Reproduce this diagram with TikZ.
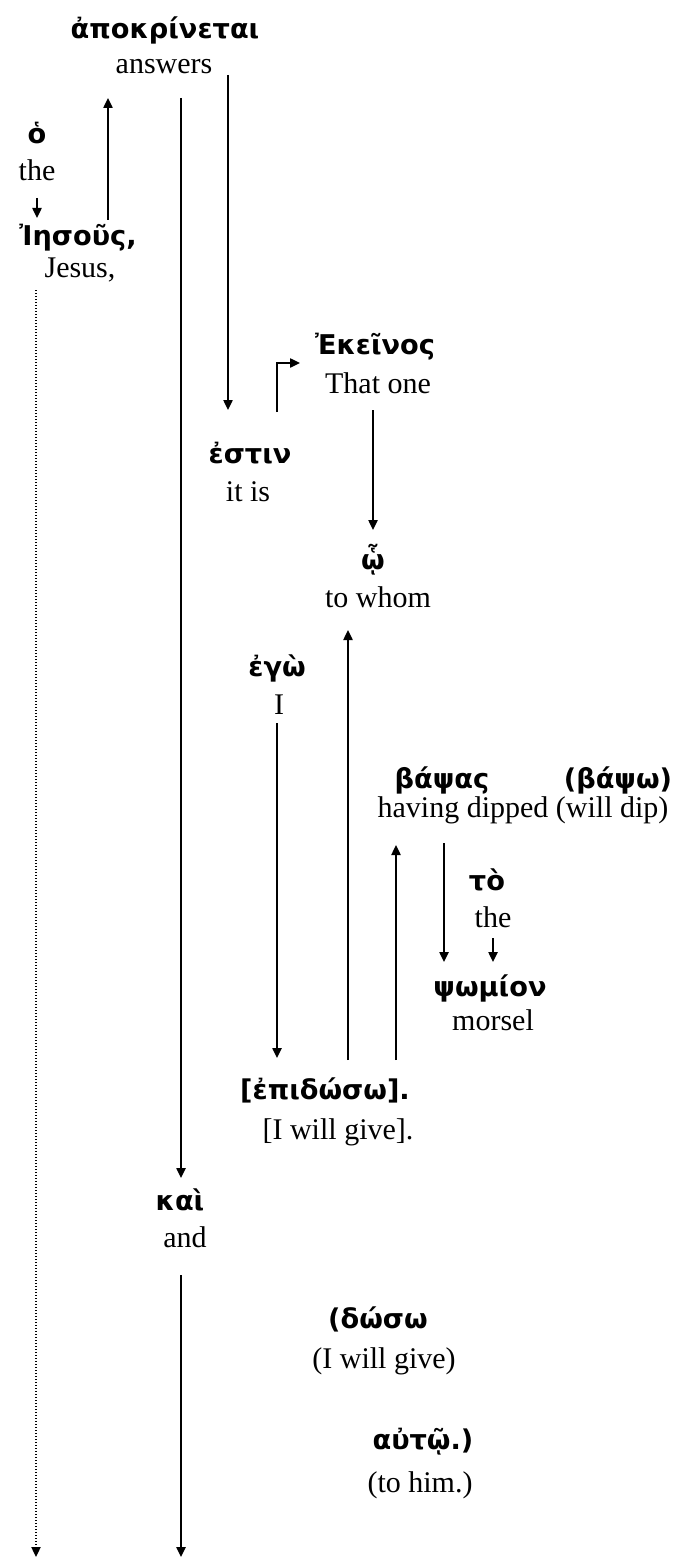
\documentclass[tikz,border=0pt]{standalone}
\usepackage{fontspec}
\setmainfont{Liberation Serif}
\newfontfamily\gk{DejaVu Sans}
\usetikzlibrary{arrows.meta}
\begin{document}
\begin{tikzpicture}[x=0.5pt,y=-0.5pt,
  en/.style={font=\fontsize{15}{17}\selectfont, inner sep=0pt},
  gr/.style={font=\gk\bfseries\fontsize{13.6}{15}\selectfont, inner sep=0pt},
  ln/.style={line width=0.9pt},
  arr/.style={ln, -{Triangle[length=5pt,width=4.6pt]}},
  dotarr/.style={line width=0.8pt, dash pattern=on 0.7pt off 0.8pt, -{Triangle[length=5pt,width=4.6pt]}}]
\useasboundingbox (0,0) rectangle (681,1562);
% words
\node[gr] (apok) at (165,30) {ἀποκρίνεται};
\node[en] (answers) at (164,67) {answers};
\node[gr] (ho) at (37,133) {ὁ};
\node[en] (the1) at (37,170) {the};
\node[gr] (iesous) at (78,238) {Ἰησοῦς,};
\node[en] (jesus) at (80,270) {Jesus,};
\node[gr] (ekeinos) at (375,347) {Ἐκεῖνος};
\node[en] (thatone) at (378,383) {That one};
\node[gr] (estin) at (250,453) {ἐστιν};
\node[en] (itis) at (248,492) {it is};
\node[gr] (hoi) at (373,560) {ᾧ};
\node[en] (towhom) at (378,597) {to whom};
\node[gr] (ego) at (277,668) {ἐγὼ};
\node[en] (I) at (279,705) {I};
\node[gr] (bapsas) at (442,780) {βάψας};
\node[gr] (bapso) at (618,780) {(βάψω)};
\node[en] (dipped) at (523,810) {having dipped (will dip)};
\node[gr] (to) at (487,880) {τὸ};
\node[en] (the2) at (493,917) {the};
\node[gr] (psomion) at (490,988) {ψωμίον};
\node[en] (morsel) at (493,1020) {morsel};
\node[gr] (epidoso) at (325,1090) {[ἐπιδώσω].};
\node[en] (igive) at (338,1132) {[I will give].};
\node[gr] (kai) at (180,1200) {καὶ};
\node[en] (and) at (185,1237) {and};
\node[gr] (doso) at (378,1319) {(δώσω};
\node[en] (igive2) at (384,1361) {(I will give)};
\node[gr] (auto) at (423,1442) {αὐτῷ.)};
\node[en] (tohim) at (420,1485) {(to him.)};
% connector end points
\coordinate (a1) at (108,220); \coordinate (a2) at (108,98);
\coordinate (b1) at (181,98);  \coordinate (b2) at (181,1178);
\coordinate (c1) at (181,1275); \coordinate (c2) at (181,1557);
\coordinate (d1) at (228,75);  \coordinate (d2) at (228,410);
\coordinate (e1) at (37,198);  \coordinate (e2) at (37,218);
\coordinate (f1) at (36,290);  \coordinate (f2) at (36,1557);
\coordinate (g1) at (277,412); \coordinate (g2) at (277,363); \coordinate (g3) at (300,363);
\coordinate (h1) at (373,410); \coordinate (h2) at (373,530);
\coordinate (i1) at (348,1060); \coordinate (i2) at (348,630);
\coordinate (j1) at (277,723); \coordinate (j2) at (277,1058);
\coordinate (k1) at (396,1060); \coordinate (k2) at (396,845);
\coordinate (l1) at (444,843); \coordinate (l2) at (444,962);
\coordinate (m1) at (493,938); \coordinate (m2) at (493,962);
% connectors
\draw[arr] (a1) -- (a2);
\draw[arr] (b1) -- (b2);
\draw[arr] (c1) -- (c2);
\draw[arr] (d1) -- (d2);
\draw[arr] (e1) -- (e2);
\draw[dotarr] (f1) -- (f2);
\draw[arr] (g1) -- (g2) -- (g3);
\draw[arr] (h1) -- (h2);
\draw[arr] (i1) -- (i2);
\draw[arr] (j1) -- (j2);
\draw[arr] (k1) -- (k2);
\draw[arr] (l1) -- (l2);
\draw[arr] (m1) -- (m2);
\end{tikzpicture}
\end{document}
